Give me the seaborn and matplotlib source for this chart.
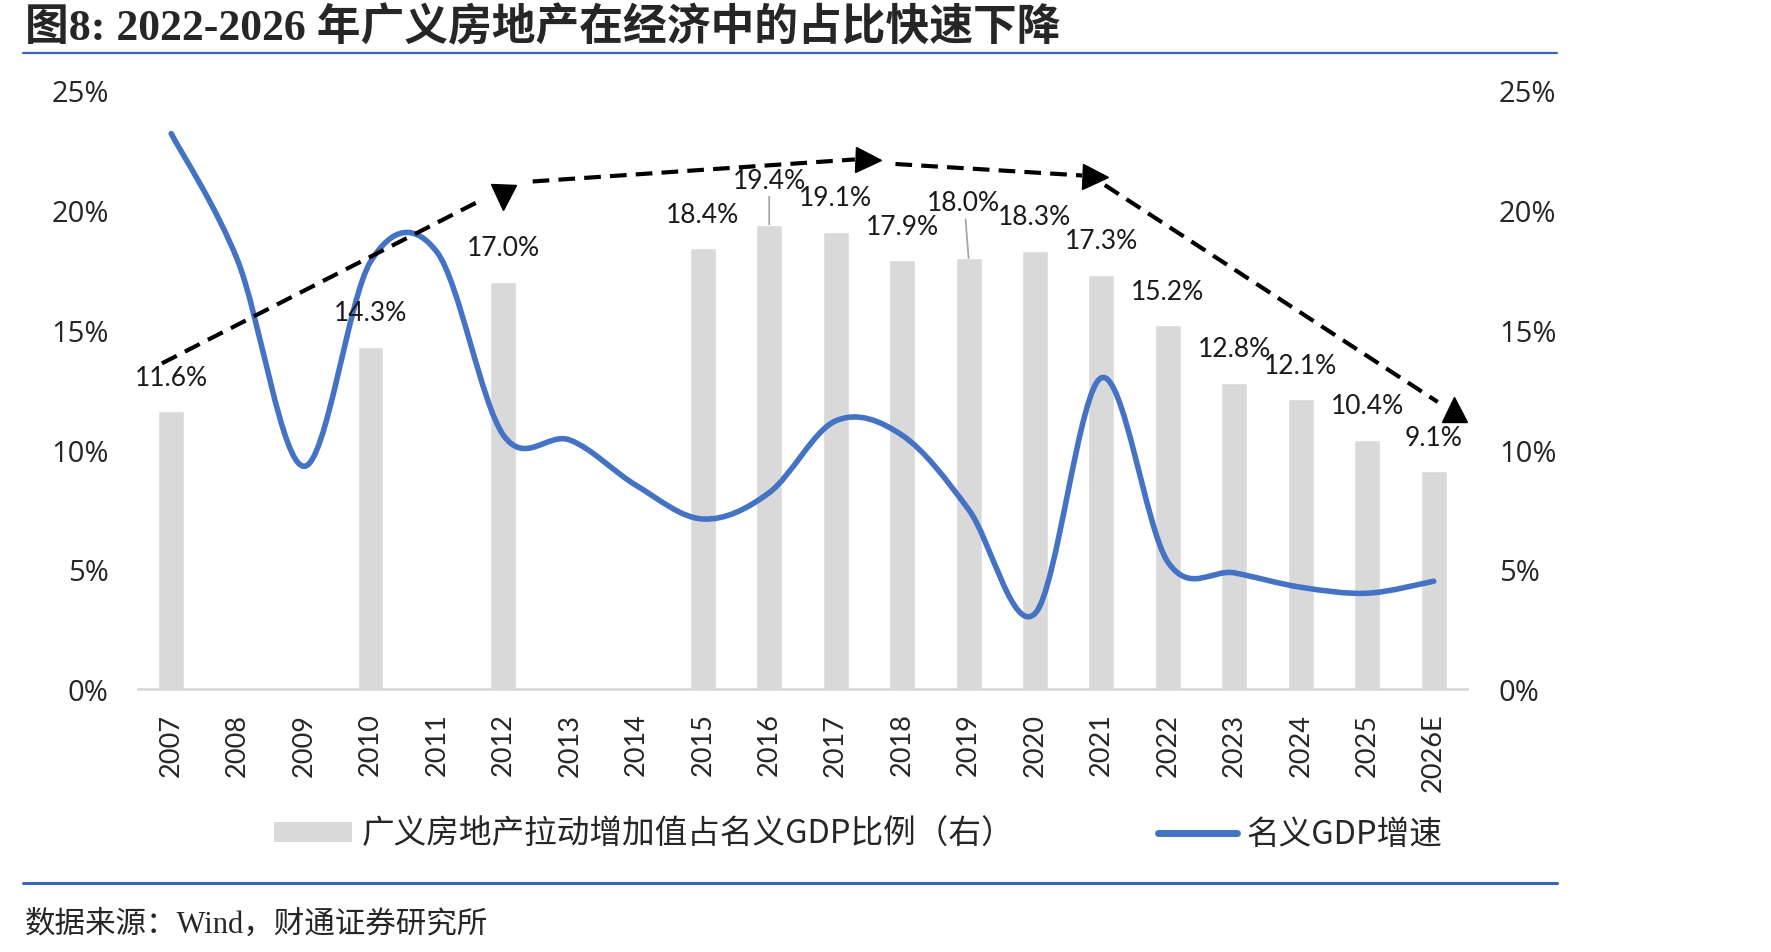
import numpy as np
import pandas as pd
import seaborn as sns
import matplotlib.pyplot as plt
from matplotlib.path import Path
from matplotlib.patches import PathPatch, Patch
from matplotlib.lines import Line2D

# data
years = ["2007", "2008", "2009", "2010", "2011", "2012", "2013", "2014", "2015", "2016",
         "2017", "2018", "2019", "2020", "2021", "2022", "2023", "2024", "2025", "2026E"]
re_share = [11.6, np.nan, np.nan, 14.3, np.nan, 17.0, np.nan, np.nan, 18.4, 19.4,
            19.1, 17.9, 18.0, 18.3, 17.3, 15.2, 12.8, 12.1, 10.4, 9.1]
gdp_growth = [23.2, 17.9, 9.3, 17.85, 18.25, 10.6, 10.4, 8.5, 7.1, 8.2,
              11.2, 10.6, 7.5, 3.15, 13.0, 5.3, 4.85, 4.25, 4.0, 4.5]
y_ticks = [0, 5, 10, 15, 20, 25]

bar_label = "广义房地产拉动增加值占名义GDP比例（右）"
line_label = "名义GDP增速"
title = "图8: 2022-2026 年广义房地产在经济中的占比快速下降"
source = "数据来源：Wind，财通证券研究所"

# hand-drawn trend arrows (category index, percent)
trend_segments = [((-0.14, 13.6), (4.70, 20.47)),
                  ((5.44, 21.2), (10.29, 22.12)),
                  ((10.9, 21.93), (13.71, 21.45)),
                  ((14.05, 21.05), (19.06, 11.99))]
trend_heads = [(5.0, 20.57, "v"), (10.48, 22.09, ">"), (13.9, 21.37, ">"), (19.31, 11.7, "^")]

# labels that were nudged in the original (x offset pt, y offset pt)
label_nudge = {"2016": (0, 32), "2019": (-3.6, 40)}

BAR = "#D9D9D9"
BLUE = "#4472C4"
RULE = "#3A66B5"
CJK = "Noto Sans CJK SC"

sns.set_style("white")
plt.rcParams["font.family"] = ["Lato", CJK]

df = pd.DataFrame({"year": years, "share": re_share, "gdp": gdp_growth})

fig = plt.figure(figsize=(17.71, 9.53), dpi=100)
ax = fig.add_axes([0.0779, 0.276, 0.7504, 0.628])

sns.barplot(data=df, x="year", y="share", order=years, color=BAR, width=0.39,
            errorbar=None, saturation=1, ax=ax)

# smoothed line (Excel style bezier through the points)
xs = np.arange(len(years), dtype=float)
ys = np.array(gdp_growth)
verts = [(xs[0], ys[0])]
codes = [Path.MOVETO]
for i in range(len(xs) - 1):
    p0 = np.array([xs[max(i - 1, 0)], ys[max(i - 1, 0)]])
    p1 = np.array([xs[i], ys[i]])
    p2 = np.array([xs[i + 1], ys[i + 1]])
    p3 = np.array([xs[min(i + 2, len(xs) - 1)], ys[min(i + 2, len(xs) - 1)]])
    c1 = p1 + (p2 - p0) / 6
    c2 = p2 - (p3 - p1) / 6
    verts += [tuple(c1), tuple(c2), tuple(p2)]
    codes += [Path.CURVE4] * 3
ax.add_patch(PathPatch(Path(verts, codes), facecolor="none", edgecolor=BLUE,
                       lw=4, capstyle="round", joinstyle="round", zorder=4))

# bar value labels
for i, (yr, v) in enumerate(zip(years, re_share)):
    if np.isnan(v):
        continue
    dx, dy = label_nudge.get(yr, (0, 24.5))
    ax.annotate(f"{v:.1f}%", xy=(i, v), xytext=(dx, dy), textcoords="offset points",
                ha="center", va="center", fontsize=19, color="#1a1a1a", zorder=5)
    if yr in label_nudge:
        ax.annotate("", xy=(i, v), xytext=(dx * 0.6, dy - 12), textcoords="offset points",
                    arrowprops=dict(arrowstyle="-", color="#A6A6A6", lw=1.3,
                                    shrinkA=0, shrinkB=0))

# dashed trend arrows
for (x0, y0), (x1, y1) in trend_segments:
    ax.plot([x0, x1], [y0, y1], color="black", lw=3, dashes=(4, 2.2), zorder=6)
for hx, hy, m in trend_heads:
    ax.plot(hx, hy, marker=m, color="black", markersize=18, zorder=6)

ax.set_xlim(-0.5, len(years) - 0.5)
ax.set_ylim(0, 25)
ax.set_yticks(y_ticks)
ax.set_yticklabels([f"{t}%" for t in y_ticks], fontfamily="Open Sans", fontsize=21)
ax.set_xlabel("")
ax.set_ylabel("")
ax.set_xticks(xs)
ax.set_xticklabels(years, rotation=90, fontsize=19.5)
ax.set_xticks(np.arange(-0.5, len(years)), minor=True)
ax.tick_params(axis="x", which="major", length=0, pad=17)
ax.tick_params(axis="x", which="minor", length=7, width=2, color=BAR, direction="out")
ax.tick_params(axis="y", length=0, pad=21)
for s in ["top", "left", "right"]:
    ax.spines[s].set_visible(False)
ax.spines["bottom"].set_color(BAR)
ax.spines["bottom"].set_linewidth(2)

ax2 = ax.twinx()
ax2.set_ylim(0, 25)
ax2.set_yticks(y_ticks)
ax2.set_yticklabels([f"{t}%" for t in y_ticks], fontfamily="Open Sans", fontsize=21)
ax2.tick_params(axis="y", length=0, pad=23)
for s in ax2.spines.values():
    s.set_visible(False)

handles = [Patch(facecolor=BAR, edgecolor="none", label=bar_label),
           Line2D([0], [0], color=BLUE, lw=5, label=line_label)]
fig.legend(handles=handles, loc="center", bbox_to_anchor=(0.4845, 0.1235), ncol=2,
           frameon=False, prop={"family": CJK, "size": 23.5}, handlelength=2.4,
           handleheight=0.55, handletextpad=0.3, columnspacing=4.4)

fig.text(0.014, 0.971, title, ha="left", va="center", fontsize=31.5, fontweight="bold",
         family=["Liberation Serif", CJK])
fig.add_artist(Line2D([0.013, 0.879], [0.943, 0.943], color=RULE, lw=1.6))
fig.add_artist(Line2D([0.013, 0.879], [0.0719, 0.0719], color=RULE, lw=2.2))
fig.text(0.014, 0.0295, source, ha="left", va="center", fontsize=22,
         family=["Liberation Serif", CJK])

fig.savefig("out.png", dpi=100)
